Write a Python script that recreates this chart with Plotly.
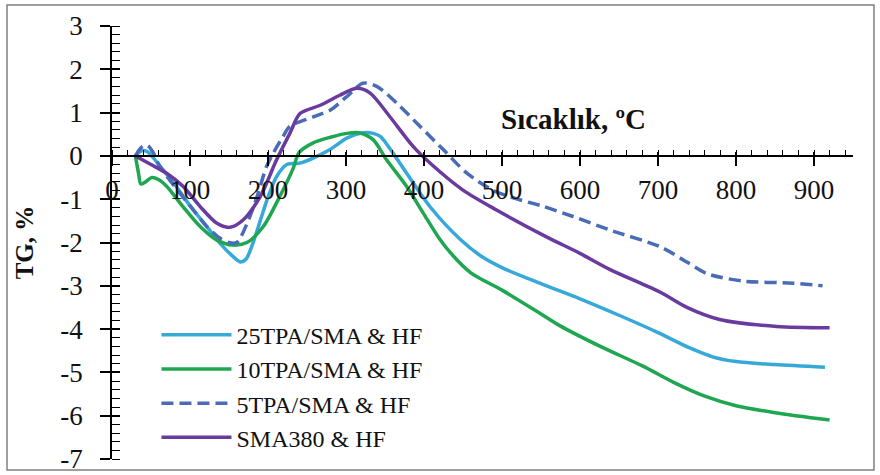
import plotly.graph_objects as go

# Thermogravimetric curves (TG, %) against temperature (°C)
temp_25tpa = [30, 38, 45, 60, 80, 100, 120, 140, 155, 165, 172, 180, 190, 200, 211, 224, 240, 258, 279,
              301, 320, 335, 344, 360, 386, 408, 446, 472, 500, 550, 600, 650, 700, 740, 770, 800, 850, 914]
tg_25tpa = [0, 0.12, 0.1, -0.2, -0.65, -1.15, -1.6, -2.05, -2.32, -2.45, -2.38, -2.05, -1.5, -0.95, -0.48,
            -0.2, -0.17, -0.05, 0.14, 0.41, 0.53, 0.52, 0.45, 0.07, -0.62, -1.18, -1.92, -2.3, -2.58, -2.95,
            -3.3, -3.68, -4.08, -4.43, -4.64, -4.75, -4.82, -4.88]

temp_10tpa = [30, 34, 37, 43, 51, 60, 70, 91, 113, 134, 155, 173, 194, 215, 232, 240, 258, 280, 301, 318,
              335, 352, 378, 399, 420, 437, 460, 500, 550, 574, 626, 680, 720, 760, 800, 850, 920]
tg_10tpa = [0, -0.4, -0.65, -0.6, -0.5, -0.55, -0.7, -1.17, -1.63, -1.94, -2.06, -2.0, -1.63, -0.94, -0.3,
            0.08, 0.3, 0.43, 0.52, 0.53, 0.37, -0.09, -0.71, -1.32, -1.92, -2.3, -2.7, -3.1, -3.65, -3.92,
            -4.4, -4.85, -5.23, -5.55, -5.77, -5.93, -6.1]

temp_5tpa = [30, 38, 45, 52, 60, 80, 100, 120, 136, 150, 160, 175, 186, 198, 207, 219, 228, 258, 280, 301,
             322, 340, 365, 395, 425, 455, 489, 520, 550, 591, 638, 703, 737, 763, 809, 873, 911]
tg_5tpa = [0, 0.2, 0.25, 0.1, -0.2, -0.7, -1.15, -1.6, -1.87, -2.0, -2.0, -1.48, -0.94, -0.25, 0.07, 0.44,
           0.68, 0.9, 1.06, 1.37, 1.68, 1.6, 1.22, 0.68, 0.14, -0.4, -0.8, -1.0, -1.15, -1.4, -1.71, -2.1,
           -2.45, -2.72, -2.89, -2.94, -3.0]

temp_sma = [30, 40, 50, 70, 91, 113, 134, 151, 168, 190, 211, 228, 241, 267, 292, 314, 331, 356, 386, 408,
            450, 493, 557, 600, 638, 703, 737, 779, 852, 920]
tg_sma = [0, -0.1, -0.2, -0.4, -0.7, -1.17, -1.55, -1.65, -1.48, -0.94, -0.09, 0.52, 0.98, 1.17, 1.4, 1.56,
          1.45, 0.91, 0.22, -0.17, -0.79, -1.25, -1.87, -2.25, -2.62, -3.15, -3.5, -3.78, -3.94, -3.97]

series_names = ["25TPA/SMA &amp; HF", "10TPA/SMA &amp; HF", "5TPA/SMA &amp; HF", "SMA380 &amp; HF"]
series_colors = ["#36a9d8", "#1fa651", "#4a6cb8", "#6a3b9e"]

x_ticks = [0, 100, 200, 300, 400, 500, 600, 700, 800, 900]
y_ticks = [3, 2, 1, 0, -1, -2, -3, -4, -5, -6, -7]
y_tick_text = ["3", "2", "1", "0", "-1", "-2", "-3", "-4", "-5", "-6", "-7"]

SERIF = "Liberation Serif, Times New Roman, serif"

fig = go.Figure()
data = [(temp_25tpa, tg_25tpa), (temp_10tpa, tg_10tpa), (temp_5tpa, tg_5tpa), (temp_sma, tg_sma)]
for (xs, ys), name, color in zip(data, series_names, series_colors):
    fig.add_trace(go.Scatter(
        x=xs, y=ys, name=name, mode="lines",
        line=dict(color=color, width=3.5, shape="spline", smoothing=0.8,
                  dash="12px,6px" if name.startswith("5TPA") else "solid"),
    ))

# empty trace that carries the overlay axes used for the inner half of the major ticks
fig.add_trace(go.Scatter(x=[], y=[], xaxis="x2", yaxis="y2", showlegend=False, hoverinfo="skip"))

zero_pos = 7 / 10  # position of TG = 0 within the y range [-7, 3]

fig.update_layout(
    width=880, height=475,
    margin=dict(l=112, r=27, t=26, b=16),
    paper_bgcolor="white", plot_bgcolor="white",
    font=dict(family=SERIF, size=26, color="#111"),
    showlegend=True,
    legend=dict(
        x=0.06, y=0.338, xanchor="left", yanchor="top",
        bgcolor="rgba(255,255,255,0)", font=dict(family=SERIF, size=24, color="#111"),
        itemwidth=70, tracegroupgap=0,
    ),
    xaxis=dict(
        range=[0, 950], anchor="free", position=zero_pos, automargin=False,
        tickvals=x_ticks, ticks="outside", ticklen=9, tickwidth=1.5, tickcolor="black",
        showline=True, linecolor="black", linewidth=1.5,
        showgrid=False, zeroline=False,
        tickfont=dict(family=SERIF, size=27, color="#111"),
        ticklabelstandoff=1,
        minor=dict(dtick=20, tick0=0, ticks="inside", ticklen=5, tickwidth=1.2, tickcolor="black"),
    ),
    yaxis=dict(
        range=[-7, 3], anchor="x", automargin=False,
        tickvals=y_ticks, ticktext=y_tick_text, ticks="outside", ticklen=10, tickwidth=1.5,
        tickcolor="black",
        showline=True, linecolor="black", linewidth=1.5,
        showgrid=False, zeroline=False,
        tickfont=dict(family=SERIF, size=27, color="#111"),
        ticklabelstandoff=12,
        minor=dict(dtick=0.2, tick0=0, ticks="inside", ticklen=8, tickwidth=1.2, tickcolor="black"),
        title=dict(text="<b>TG, %</b>", font=dict(family=SERIF, size=25, color="#111"), standoff=20),
    ),
    xaxis2=dict(
        range=[0, 950], overlaying="x", anchor="free", position=zero_pos, automargin=False,
        tickvals=x_ticks, ticks="inside", ticklen=4, tickwidth=1.5, tickcolor="black",
        showticklabels=False, showgrid=False, zeroline=False, showline=False,
    ),
    yaxis2=dict(
        range=[-7, 3], overlaying="y", anchor="x2", side="left", automargin=False,
        tickvals=y_ticks, ticks="inside", ticklen=8, tickwidth=1.5, tickcolor="black",
        showticklabels=False, showgrid=False, zeroline=False, showline=False,
    ),
    annotations=[dict(
        text="<b>Sıcaklık, ºC</b>", x=592, y=0.86, xref="x", yref="y",
        showarrow=False, font=dict(family=SERIF, size=29, color="#111"),
    )],
    shapes=[dict(
        type="rect", xref="paper", yref="paper",
        x0=-0.1417, x1=1.0283, y0=-0.0254, y1=1.0485,
        line=dict(color="#808080", width=1.5), fillcolor="rgba(0,0,0,0)", layer="below",
    )],
)

fig.write_html("out.html")
